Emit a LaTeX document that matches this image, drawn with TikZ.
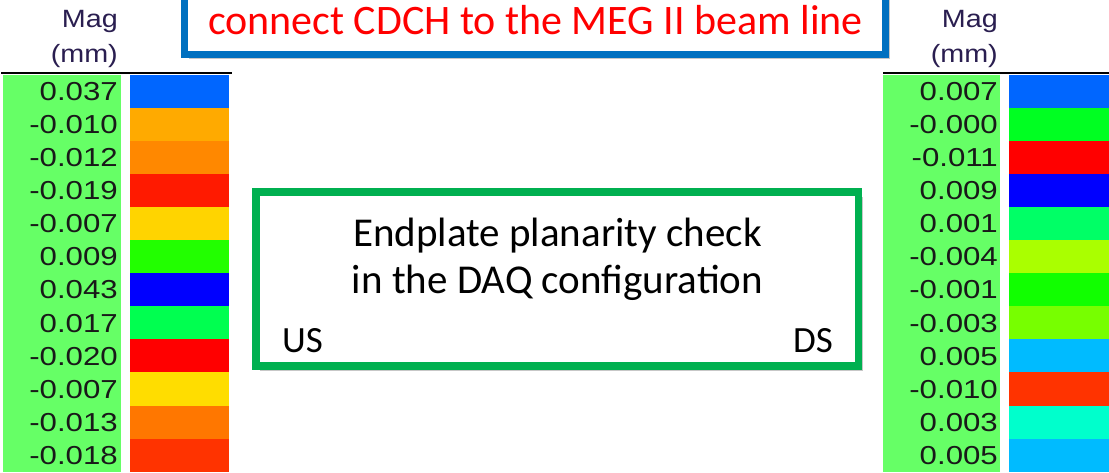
\documentclass[tikz,border=0pt]{standalone}
\usepackage{fontspec}
\setmainfont{Carlito}
\newfontfamily\arialf{Liberation Sans}
\usetikzlibrary{shadows}
\definecolor{colgreen}{HTML}{66FF66}
\definecolor{titleblue}{HTML}{0070C0}
\definecolor{boxgreen}{HTML}{00B050}
\definecolor{magtext}{HTML}{2A1E50}
\tikzset{
  colbg/.style={fill=colgreen, draw=none, inner sep=0, minimum width=118, minimum height=397},
  swatch/.style={draw=none, inner sep=0, minimum width=99, minimum height=33.6},
  numtxt/.style={font=\arialf\fontsize{26}{26}\selectfont, anchor=east, inner sep=0, text=black!90},
  magtxt/.style={font=\arialf\fontsize{25}{25}\selectfont, anchor=base east, inner sep=0, text=magtext},
  softshadow/.style={drop shadow={shadow xshift=4pt, shadow yshift=-5pt, fill=black, opacity=0.22}},
  calib/.style={inner sep=0, anchor=base}
}
\newcommand{\wid}[1]{\scalebox{1.2}[1]{#1}}
\begin{document}
\begin{tikzpicture}[x=1pt,y=-1pt]
\useasboundingbox (0,0) rectangle (1109,472);
\fill[white] (0,0) rectangle (1109,472);

% left legend
\node[colbg] (Lcol) at (62,273.5) {};
\node[magtxt] (Lmag) at (118,27) {\scalebox{1.15}[1]{Mag}};
\node[magtxt] (Lmm) at (118,62) {\scalebox{1.15}[1]{(mm)}};
\coordinate (Lla) at (1,73);
\coordinate (Llb) at (232,73);
\draw[line width=2] (Lla) -- (Llb);
\foreach \v/\c [count=\i] in {0.037/0066FF,-0.010/FFAA00,-0.012/FF8800,-0.019/FF1A00,-0.007/FFD400,0.009/22FF00,0.043/0000FF,0.017/00FF50,-0.020/FF0000,-0.007/FFDD00,-0.013/FF7700,-0.018/FF3300}{
  \definecolor{tmpc}{HTML}{\c}
  \node[swatch, fill=tmpc] (Ls\i) at (179.5,{75+33.083*(\i-0.5)}) {};
  \node[numtxt] (Ln\i) at (118,{75+33.083*(\i-0.5)}) {\wid{\v}};
}

% right legend
\node[colbg, minimum width=117] (Rcol) at (941.5,273.5) {};
\node[magtxt] (Rmag) at (998,27) {\scalebox{1.15}[1]{Mag}};
\node[magtxt] (Rmm) at (998,62) {\scalebox{1.15}[1]{(mm)}};
\coordinate (Rla) at (883,73);
\coordinate (Rlb) at (1109,73);
\draw[line width=2] (Rla) -- (Rlb);
\foreach \v/\c [count=\i] in {0.007/0066FF,-0.000/00FF22,-0.011/FF0000,0.009/0000FF,0.001/00FF66,-0.004/AAFF00,-0.001/11FF00,-0.003/77FF00,0.005/00BBFF,-0.010/FF3300,0.003/00FFCC,0.005/00BBFF}{
  \definecolor{tmpc}{HTML}{\c}
  \node[swatch, fill=tmpc, minimum width=100] (Rs\i) at (1059,{75+33.083*(\i-0.5)}) {};
  \node[numtxt] (Rn\i) at (998,{75+33.083*(\i-0.5)}) {\wid{\v}};
}

% title box
\node[draw=titleblue, line width=7, fill=white, minimum width=701, minimum height=74, inner sep=0, softshadow] (title) at (535,17) {};
\node[calib, text=red, font=\fontsize{42}{42}\selectfont] (titletxt) at (535.5,34) {connect CDCH to the MEG II beam line};

% central box
\node[draw=boxgreen, line width=7.5, fill=white, minimum width=602.5, minimum height=174, inner sep=0, softshadow] (box) at (557.25,279) {};
\node[calib, font=\fontsize{41}{41}\selectfont] (l1) at (557.5,246) {Endplate planarity check};
\node[calib, font=\fontsize{41}{41}\selectfont] (l2) at (557.5,293) {in the DAQ configuration};
\node[inner sep=0, anchor=base west, font=\fontsize{37}{37}\selectfont] (us) at (282,352) {US};
\node[inner sep=0, anchor=base east, font=\fontsize{37}{37}\selectfont] (ds) at (833,352) {DS};
\end{tikzpicture}
\end{document}
